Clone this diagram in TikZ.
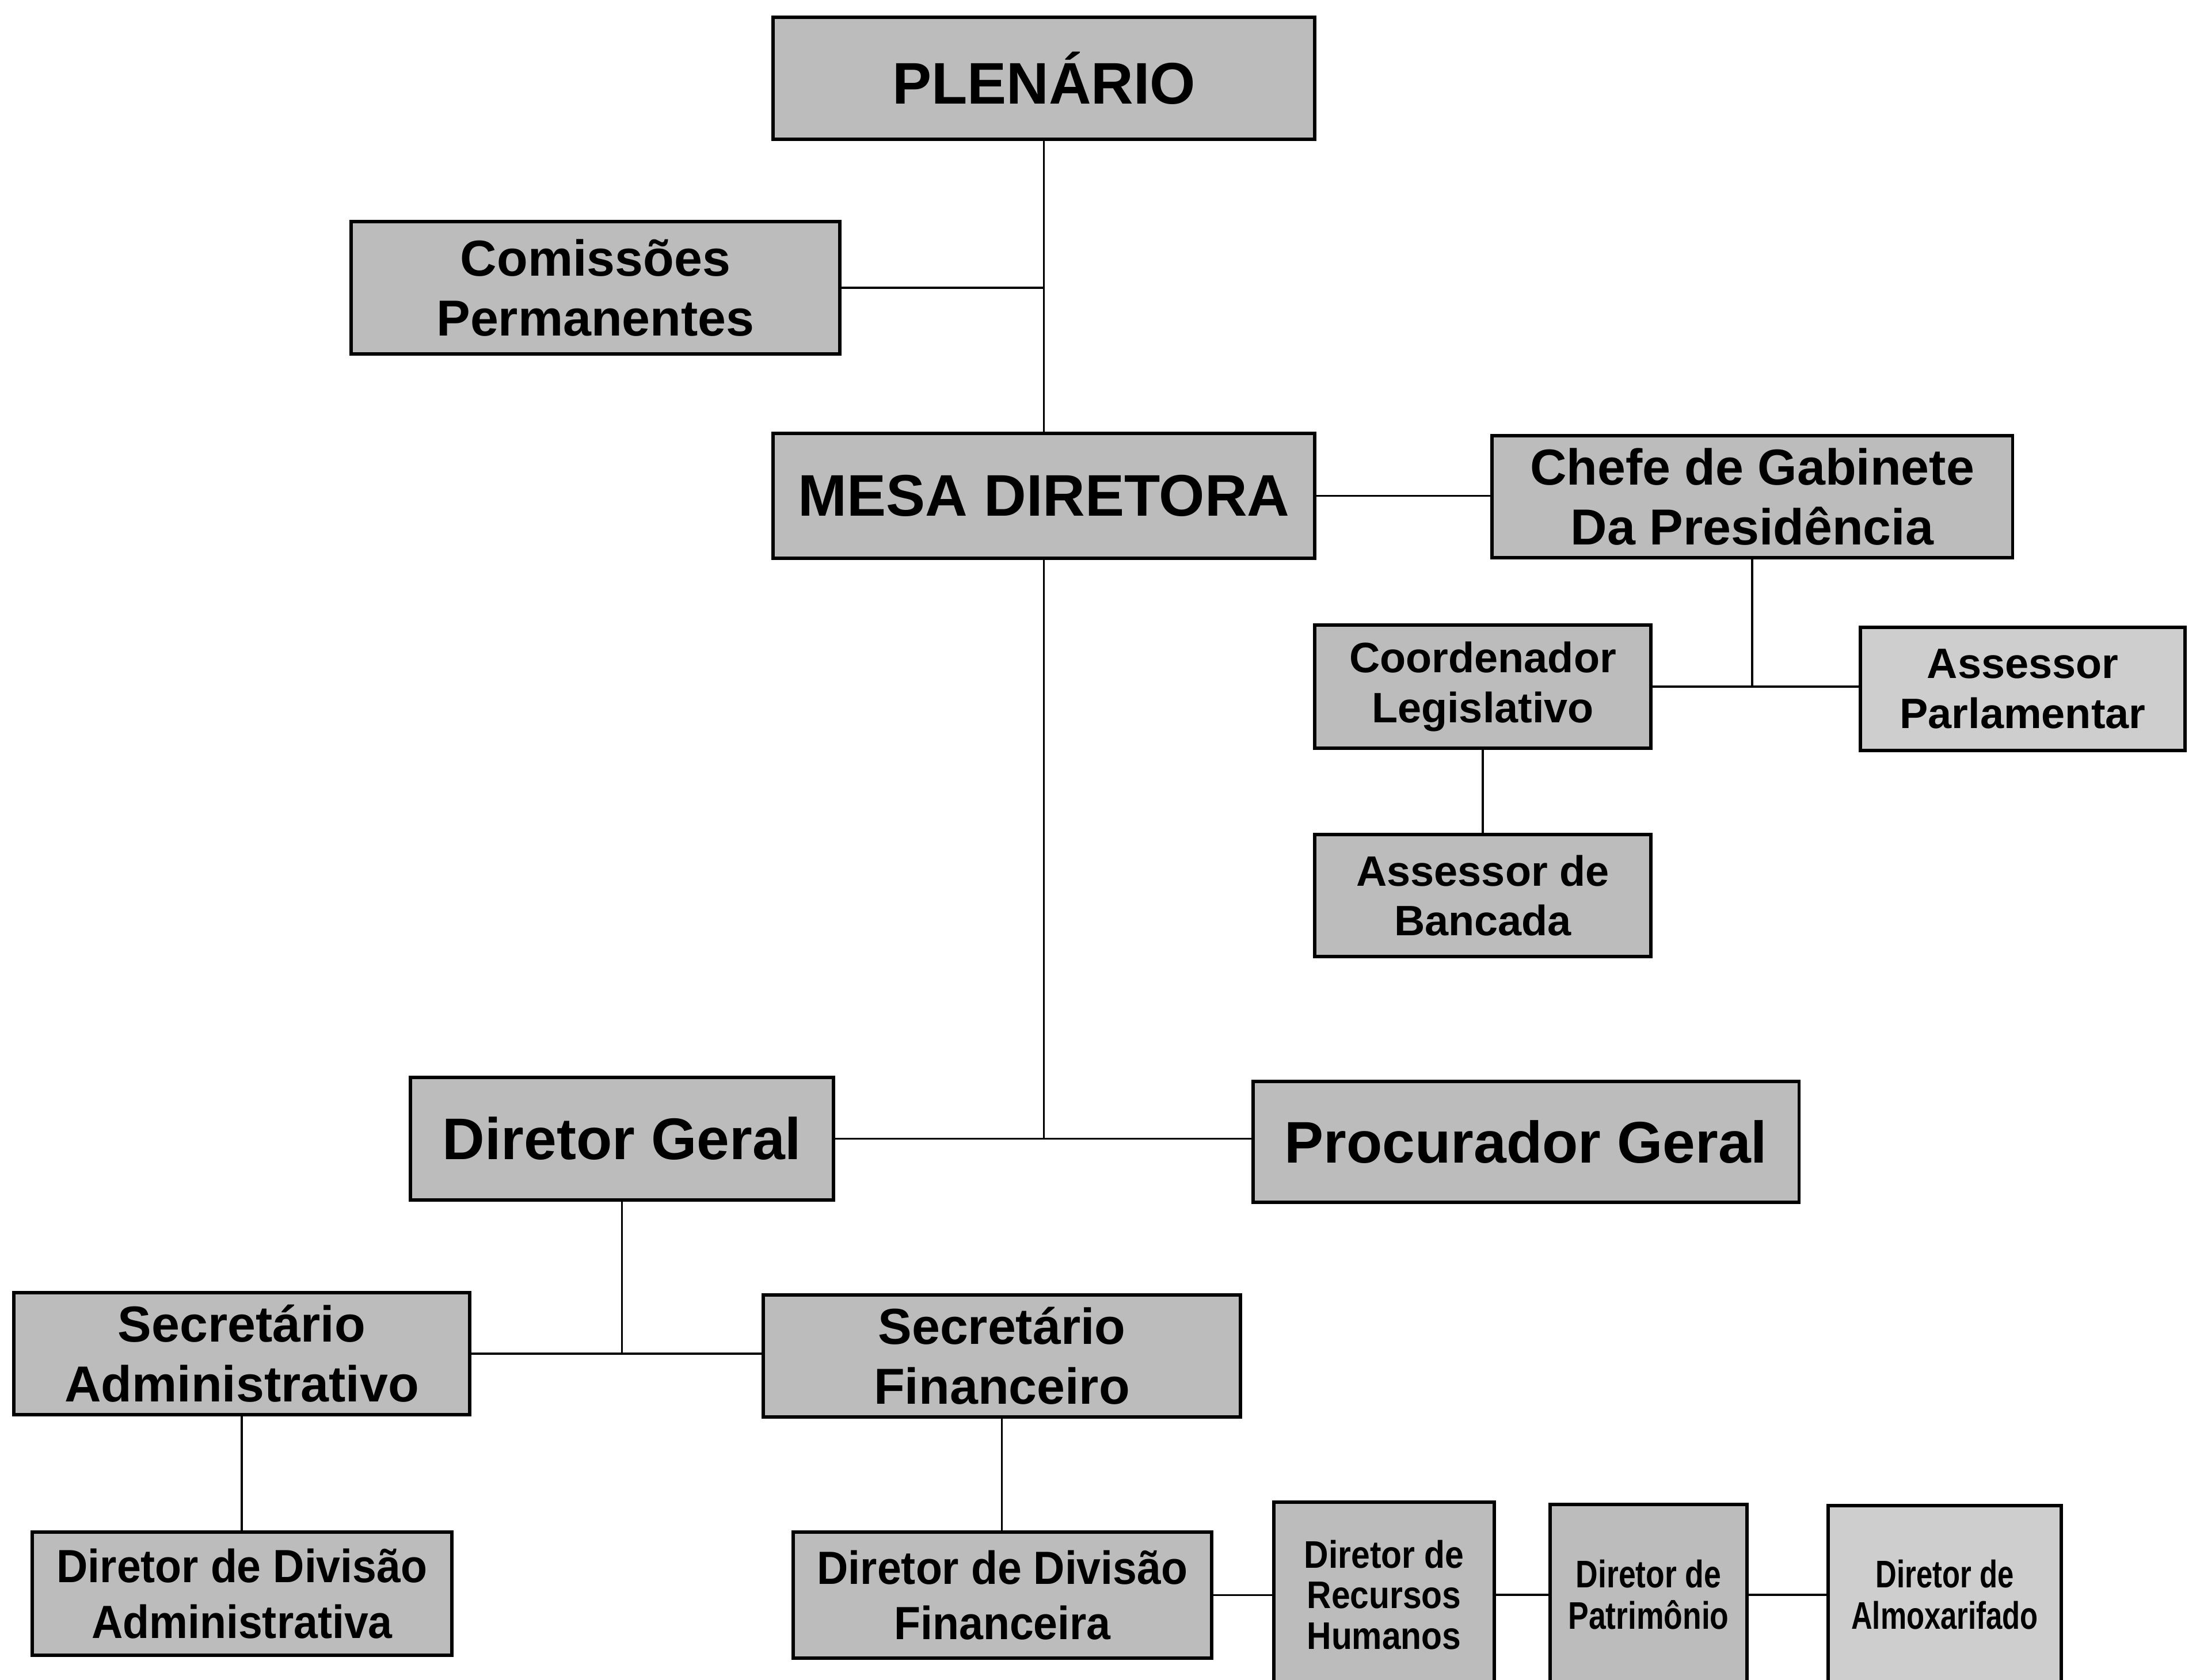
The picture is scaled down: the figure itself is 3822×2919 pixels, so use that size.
\documentclass[tikz,border=0pt]{standalone}
\usepackage{fontspec}
\setmainfont{Liberation Sans}
\newfontfamily\nfa{Liberation Sans}[FakeStretch=0.93]
\newfontfamily\nfb{Liberation Sans}[FakeStretch=0.88]
\newfontfamily\nfc{Liberation Sans}[FakeStretch=0.80]
\newfontfamily\nfd{Liberation Sans}[FakeStretch=0.76]
\definecolor{boxfill}{RGB}{188,188,188}
\definecolor{boxlight}{RGB}{206,206,206}
\begin{document}
\begin{tikzpicture}[x=0.01cm,y=-0.01cm,
  box/.style={draw=black, line width=1.6pt, fill=boxfill, inner sep=0pt, align=center},
  link/.style={line width=0.9pt},
  bigf/.style={font=\bfseries\fontsize{29}{33}\selectfont},
  midf/.style={font=\bfseries\fontsize{25}{29.5}\selectfont},
  smf/.style={font=\bfseries\fontsize{21}{24.5}\selectfont}]
\useasboundingbox (0,0) rectangle (3822,2919);
\clip (0,0) rectangle (3822,2919);

\node[box, bigf, minimum width=9.41cm, minimum height=2.12cm] (plen) at (1813.5,136) {PLENÁRIO};
\node[box, midf, minimum width=8.49cm, minimum height=2.30cm] (com) at (1034.5,500) {Comissões\\Permanentes};
\node[box, bigf, minimum width=9.41cm, minimum height=2.17cm] (mesa) at (1813.5,861.5) {MESA DIRETORA};
\node[box, midf, minimum width=9.04cm, minimum height=2.12cm] (chefe) at (3044,863) {Chefe de Gabinete\\Da Presidência};
\node[box, smf, minimum width=5.84cm, minimum height=2.14cm] (coord) at (2576,1193) {Coordenador\\Legislativo};
\node[box, smf, fill=boxlight, minimum width=5.64cm, minimum height=2.14cm] (asspar) at (3514,1197) {Assessor\\Parlamentar};
\node[box, smf, minimum width=5.84cm, minimum height=2.12cm] (assban) at (2576,1556) {Assessor de\\Bancada};
\node[box, bigf, minimum width=7.35cm, minimum height=2.13cm] (dg) at (1080.5,1978.5) {Diretor Geral};
\node[box, bigf, minimum width=9.48cm, minimum height=2.10cm] (pg) at (2651,1984) {Procurador Geral};
\node[box, midf, minimum width=7.92cm, minimum height=2.12cm] (sa) at (420,2352) {Secretário\\Administrativo};
\node[box, midf, minimum width=8.29cm, minimum height=2.12cm] (sf) at (1740.5,2356) {Secretário\\Financeiro};
\node[box, font=\nfa\bfseries\fontsize{23}{27.5}\selectfont, minimum width=7.29cm, minimum height=2.14cm] (dda) at (420.5,2769) {Diretor de Divisão\\Administrativa};
\node[box, font=\nfa\bfseries\fontsize{23}{27.5}\selectfont, minimum width=7.27cm, minimum height=2.19cm] (ddf) at (1741.5,2771.5) {Diretor de Divisão\\Financeira};
\node[box, font=\nfb\bfseries\fontsize{19}{20}\selectfont, minimum width=3.83cm, minimum height=3.22cm] (drh) at (2404.5,2771) {Diretor de\\Recursos\\Humanos};
\node[box, font=\nfc\bfseries\fontsize{19}{20.5}\selectfont, minimum width=3.42cm, minimum height=3.14cm] (pat) at (2864,2771) {Diretor de\\Patrimônio};
\node[box, fill=boxlight, font=\nfd\bfseries\fontsize{19}{20.5}\selectfont, minimum width=4.05cm, minimum height=3.10cm] (alm) at (3378.5,2771) {Diretor de\\Almoxarifado};

\draw[link] (plen.south) -- (mesa.north);
\draw[link] (com.east) -- (com.east -| plen.south);
\draw[link] (mesa.east) -- (mesa.east -| chefe.west);
\draw[link] (chefe.south) -- (chefe.south |- coord.east);
\draw[link] (coord.east) -- (coord.east -| asspar.west);
\draw[link] (coord.south) -- (assban.north);
\draw[link] (mesa.south) -- (mesa.south |- dg.east);
\draw[link] (dg.east) -- (dg.east -| pg.west);
\draw[link] (dg.south) -- (dg.south |- sa.east);
\draw[link] (sa.east) -- (sa.east -| sf.west);
\draw[link] (sa.south) -- (sa.south |- dda.north);
\draw[link] (sf.south) -- (sf.south |- ddf.north);
\draw[link] (ddf.east) -- (ddf.east -| drh.west);
\draw[link] (drh.east) -- (drh.east -| pat.west);
\draw[link] (pat.east) -- (pat.east -| alm.west);
\end{tikzpicture}
\end{document}
